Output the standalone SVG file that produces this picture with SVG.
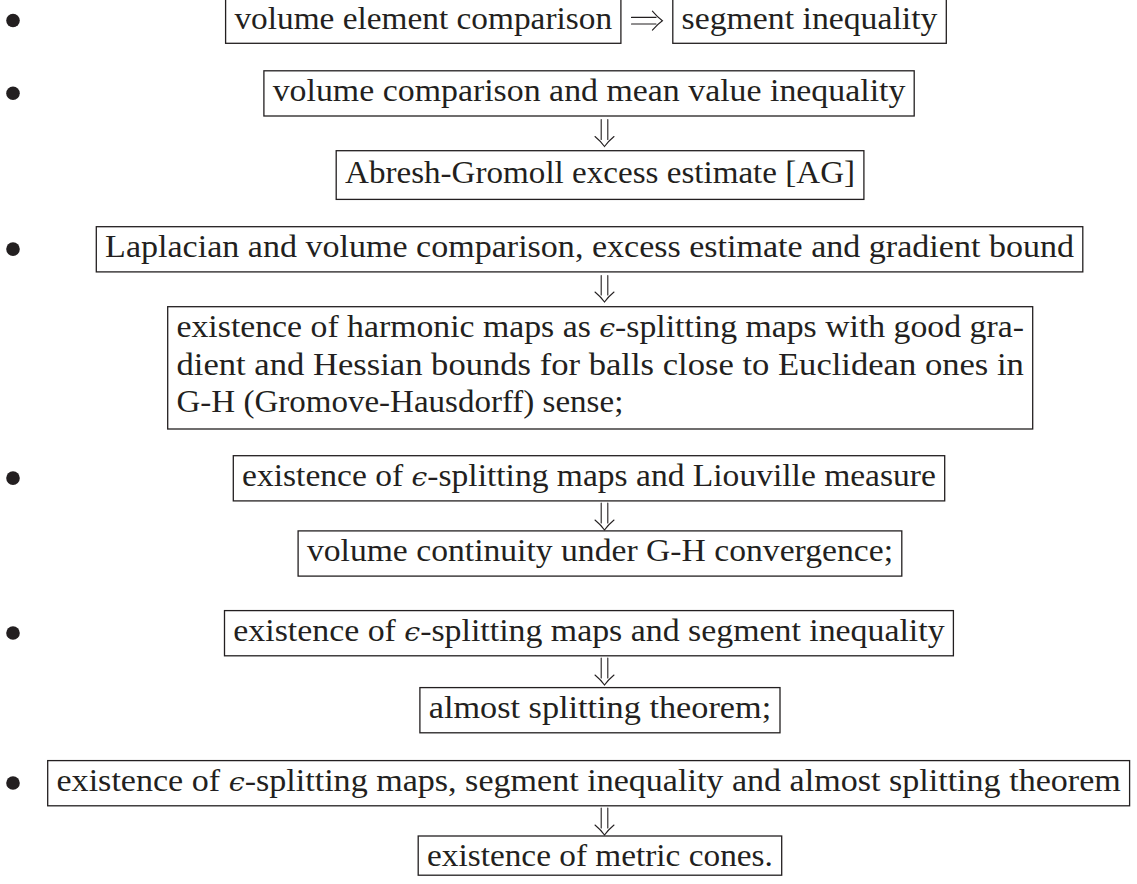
<svg xmlns="http://www.w3.org/2000/svg" width="1137" height="884" viewBox="0 0 1137 884">
<style>
.box{fill:none;stroke:#231f20;stroke-width:1.3}
.t{font-family:"Liberation Serif","DejaVu Serif",serif;font-size:31px;fill:#231f20}
.e{font-style:italic;font-family:"DejaVu Serif",serif;font-size:26px}
.arr{fill:none;stroke:#231f20;stroke-width:1.1;stroke-linecap:round}
.bul{fill:#231f20}
</style>
<rect width="1137" height="884" fill="#ffffff"/>
<g id="bullets">
<circle class="bul" cx="13" cy="20.5" r="6.8"/>
<circle class="bul" cx="13" cy="93.2" r="6.8"/>
<circle class="bul" cx="13" cy="249.1" r="6.8"/>
<circle class="bul" cx="13" cy="478.1" r="6.8"/>
<circle class="bul" cx="13" cy="633" r="6.8"/>
<circle class="bul" cx="13" cy="783" r="6.8"/>
</g>
<g id="n1a"><rect class="box" x="225.6" y="-1.9" width="395.3" height="45.2"/><text class="t" x="234.4" y="28.5" textLength="377.7" lengthAdjust="spacingAndGlyphs">volume element comparison</text></g>
<g id="n1b"><rect class="box" x="672.8" y="-1.9" width="273.5" height="45.2"/><text class="t" x="681.6" y="28.5" textLength="255.9" lengthAdjust="spacingAndGlyphs">segment inequality</text></g>
<g id="n2a"><rect class="box" x="263.9" y="70.8" width="650.3" height="45.2"/><text class="t" x="272.7" y="101.2" textLength="632.7" lengthAdjust="spacingAndGlyphs">volume comparison and mean value inequality</text></g>
<g id="n2b"><rect class="box" x="336.2" y="150.7" width="527.7" height="48.7"/><text class="t" x="345" y="182.8" textLength="510.1" lengthAdjust="spacingAndGlyphs">Abresh-Gromoll excess estimate [AG]</text></g>
<g id="n3a"><rect class="box" x="96.3" y="226.7" width="986.5" height="45.2"/><text class="t" x="105.1" y="257.1" textLength="968.9" lengthAdjust="spacingAndGlyphs">Laplacian and volume comparison, excess estimate and gradient bound</text></g>
<g id="n3b"><rect class="box" x="167.7" y="306.7" width="865" height="122.3"/>
<text class="t" x="176.5" y="337.1" textLength="847.4" lengthAdjust="spacingAndGlyphs">existence of harmonic maps as <tspan class="e">ϵ</tspan>-splitting maps with good gra-</text>
<text class="t" x="176.5" y="374.7" textLength="847.4" lengthAdjust="spacingAndGlyphs">dient and Hessian bounds for balls close to Euclidean ones in</text>
<text class="t" x="176.5" y="412.3" textLength="446.8" lengthAdjust="spacingAndGlyphs">G-H (Gromove-Hausdorff) sense;</text></g>
<g id="n4a"><rect class="box" x="233.3" y="455.7" width="711.4" height="45.2"/><text class="t" x="242.1" y="486.1" textLength="693.8" lengthAdjust="spacingAndGlyphs">existence of <tspan class="e">ϵ</tspan>-splitting maps and Liouville measure</text></g>
<g id="n4b"><rect class="box" x="298.1" y="530.9" width="603.7" height="45.2"/><text class="t" x="306.9" y="561.3" textLength="586.1" lengthAdjust="spacingAndGlyphs">volume continuity under G-H convergence;</text></g>
<g id="n5a"><rect class="box" x="224.5" y="610.6" width="728.9" height="45.2"/><text class="t" x="233.3" y="641" textLength="711.3" lengthAdjust="spacingAndGlyphs">existence of <tspan class="e">ϵ</tspan>-splitting maps and segment inequality</text></g>
<g id="n5b"><rect class="box" x="419.9" y="687.6" width="360.1" height="45.2"/><text class="t" x="428.7" y="718" textLength="342.5" lengthAdjust="spacingAndGlyphs">almost splitting theorem;</text></g>
<g id="n6a"><rect class="box" x="47.7" y="760.6" width="1081.9" height="45.2"/><text class="t" x="56.5" y="791" textLength="1064.3" lengthAdjust="spacingAndGlyphs">existence of <tspan class="e">ϵ</tspan>-splitting maps, segment inequality and almost splitting theorem</text></g>
<g id="n6b"><rect class="box" x="418.2" y="836" width="363.5" height="39.2"/><text class="t" x="427" y="866.4" textLength="345.9" lengthAdjust="spacingAndGlyphs">existence of metric cones.</text></g>
<g id="connectors">
<path class="arr" d="M631.5,17.4H656M631.5,24H656M652.4,11.2Q657.4,17.2 662.4,20.7Q657.4,24.2 652.4,30.2"/>
<path class="arr" d="M601.2,119.5V139.5M607.8,119.5V139.5M595,136.5Q601,141.5 604.5,146.5Q608,141.5 614,136.5"/>
<path class="arr" d="M601.2,275.5V295M607.8,275.5V295M595,292Q601,297 604.5,302Q608,297 614,292"/>
<path class="arr" d="M601.2,503V523M607.8,503V523M595,520Q601,525 604.5,530Q608,525 614,520"/>
<path class="arr" d="M601.2,658V678M607.8,658V678M595,675Q601,680 604.5,685Q608,680 614,675"/>
<path class="arr" d="M601.2,808V828M607.8,808V828M595,825Q601,830 604.5,835Q608,830 614,825"/>
</g>
</svg>
